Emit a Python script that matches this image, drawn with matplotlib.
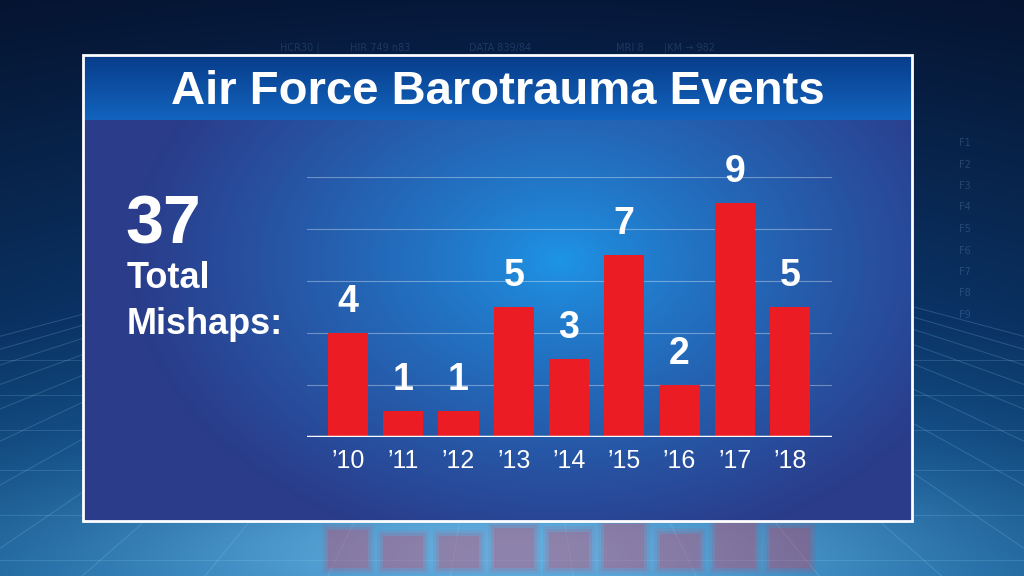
import numpy as np
import matplotlib
matplotlib.use("Agg")
import matplotlib.pyplot as plt
from matplotlib.patches import Rectangle

# Data
years = ["\u201910", "\u201911", "\u201912", "\u201913", "\u201914",
         "\u201915", "\u201916", "\u201917", "\u201918"]
events = [4, 1, 1, 5, 3, 7, 2, 9, 5]
total = 37
title = "Air Force Barotrauma Events"

W, H = 1024, 576
fig = plt.figure(figsize=(W / 100, H / 100), dpi=100)

# background layer in pixel coords
bg = fig.add_axes([0, 0, 1, 1])
bg.set_xlim(0, W)
bg.set_ylim(H, 0)
bg.axis("off")

yy, xx = np.mgrid[0:H, 0:W]
top = np.array([6, 24, 58]) / 255
mid = np.array([12, 58, 115]) / 255
low = np.array([30, 120, 190]) / 255
t = (yy / H)[..., None]
img = np.where(t < 0.55, top + (mid - top) * (t / 0.55), mid + (low - mid) * ((t - 0.55) / 0.45))
glow = np.exp(-(((xx - 512) / 420.0) ** 2 + ((yy - 550) / 80.0) ** 2))[..., None]
img = img + glow * (np.array([110, 185, 230]) / 255 - img) * 0.85
side = np.exp(-(((xx - 512) / 700.0) ** 2))[..., None]
img = img * (0.6 + 0.4 * side)
bg.imshow(np.clip(img, 0, 1), extent=(0, W, H, 0), aspect="auto", zorder=0)

# perspective floor grid
vx, vy = 512, 200
for fx in np.linspace(-900, 1924, 24):
    bg.plot([vx, fx], [vy, H], color="#9fdcff", lw=0.7, alpha=0.2, zorder=1)
for gy in [360, 395, 430, 470, 515, 560]:
    bg.plot([0, W], [gy, gy], color="#9fdcff", lw=0.7, alpha=0.17, zorder=1)

# faint blurred reflection of the bars on the floor
for i, v in enumerate(events):
    bx = 328 + i * 55.25
    for grow, a in [(6, 0.08), (3, 0.12), (0, 0.18)]:
        bg.add_patch(Rectangle((bx - grow, 538 - v * 2 - grow), 40 + 2 * grow, 30 + v * 2 + 2 * grow,
                               color="#e8304a", alpha=a, lw=0, zorder=1))

# faint HUD text
for k in range(9):
    bg.text(965, 143 + k * 21.5, "F%d" % (k + 1), color="#7fa8d8", alpha=0.25,
            fontsize=7, ha="center", va="center", zorder=1)
for hx, s in [(300, "HCR30 |"), (380, "HIR 749 n83"), (500, "DATA 839/84"), (630, "MRI 8"), (690, "|KM \u2192 982")]:
    bg.text(hx, 48, s, color="#7fa8d8", alpha=0.2, fontsize=7, ha="center", va="center", zorder=1)

# panel
px0, py0, px1, py1 = 83, 55, 912, 521
ph, pw = py1 - py0, px1 - px0
pyy, pxx = np.mgrid[0:ph, 0:pw]
d = np.sqrt(((pxx + px0 - 560) / 430.0) ** 2 + ((pyy + py0 - 260) / 300.0) ** 2)
d = np.clip(d, 0, 1)[..., None]
c_in = np.array([30, 150, 232]) / 255
c_out = np.array([42, 60, 138]) / 255
pimg = c_in + (c_out - c_in) * d ** 0.8
bg.imshow(pimg, extent=(px0, px1, py1, py0), aspect="auto", zorder=2)

# title bar
tb = np.linspace(0, 1, 64)[:, None, None]
t_top = np.array([8, 60, 138]) / 255
t_bot = np.array([18, 100, 190]) / 255
timg = np.repeat(t_top + (t_bot - t_top) * tb, 2, axis=1)
bg.imshow(timg, extent=(px0, px1, 120, py0), aspect="auto", zorder=3)
bg.add_patch(Rectangle((px0, py0), pw, ph, fill=False, ec="white", lw=2, zorder=4))

bold = ["Liberation Sans", "DejaVu Sans"]
bg.text((px0 + px1) / 2, 104, title, color="white", fontsize=34, fontweight="bold",
        family=bold, ha="center", va="baseline", zorder=5)

# left side summary
bg.text(125, 243, str(total), color="white", fontsize=49, fontweight="bold",
        family=bold, ha="left", va="baseline", zorder=5)
bg.text(127, 288, "Total", color="white", fontsize=26, fontweight="bold",
        family=bold, ha="left", va="baseline", zorder=5)
bg.text(127, 334, "Mishaps:", color="white", fontsize=26, fontweight="bold",
        family=bold, ha="left", va="baseline", zorder=5)

# bar chart
ax = fig.add_axes([307 / W, 1 - 437 / H, 525 / W, 260 / H])
ax.patch.set_alpha(0)
x = np.arange(len(events))
ax.bar(x, events, width=0.724, color="#ec1c24", zorder=3)
ax.set_xlim(-0.742, 8.76)
ax.set_ylim(0, 10)
for g in [2, 4, 6, 8, 10]:
    ax.axhline(g, color="white", lw=0.8, alpha=0.35, zorder=1)
ax.axhline(0, color="white", lw=2.5, zorder=4)
for s in ax.spines.values():
    s.set_visible(False)
ax.set_yticks([])
ax.set_xticks(x)
ax.set_xticklabels(years, color="white", fontsize=18,
                   family=["Liberation Sans Narrow", "Liberation Sans", "DejaVu Sans"])
ax.tick_params(length=0, pad=9)
for xi, v in zip(x, events):
    ax.annotate(str(v), (xi, v), xytext=(0, 9), textcoords="offset points",
                ha="center", va="bottom", color="white", fontsize=27, fontweight="bold",
                family=bold, annotation_clip=False)

fig.savefig("out.png", dpi=100)
